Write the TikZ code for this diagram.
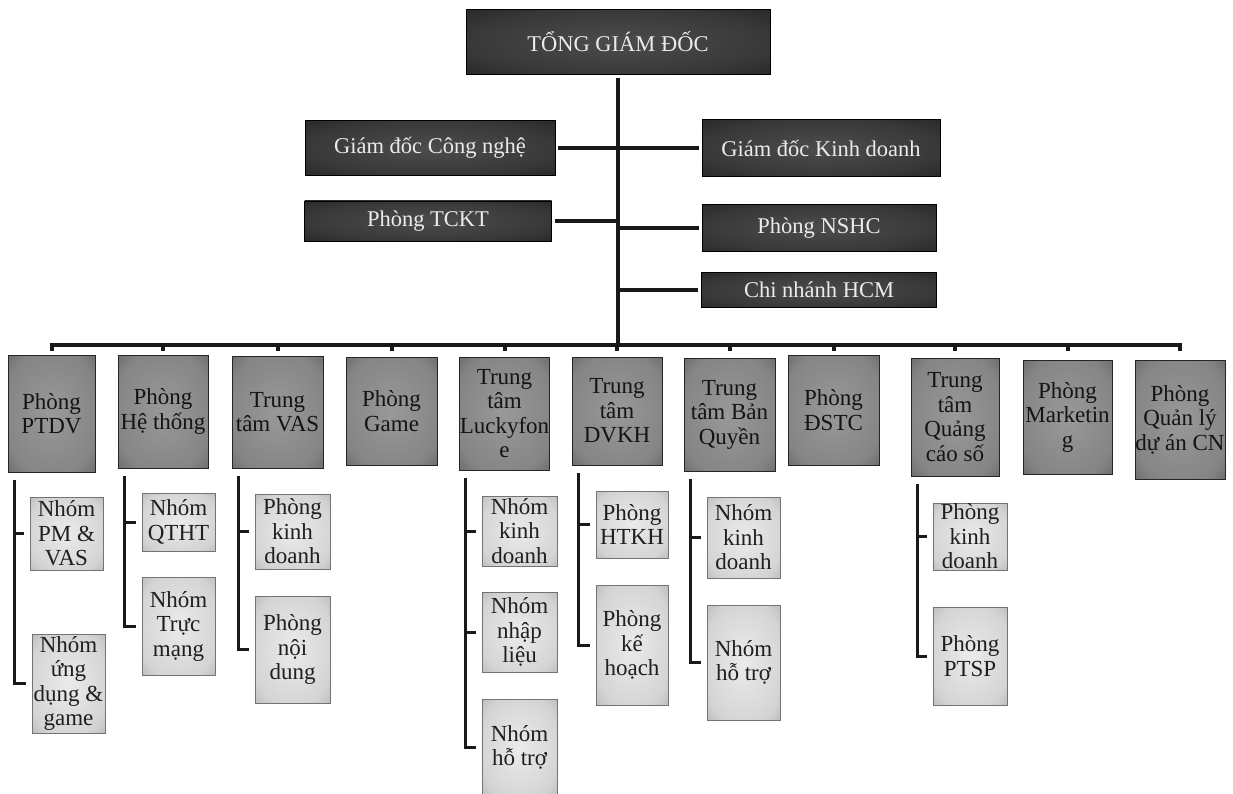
\documentclass[tikz,border=0pt]{standalone}
\usepackage{fontspec}
\setmainfont{Liberation Serif}

% bóng đổ cho các ô
\pgfdeclareradialshading{topshade}{\pgfpoint{0bp}{0bp}}{color(0bp)=(black!70); color(25bp)=(black!78); color(50bp)=(black!92); color(72bp)=(black)}
\pgfdeclareradialshading{deptshade}{\pgfpoint{0bp}{0bp}}{color(0bp)=(black!40); color(28bp)=(black!48); color(50bp)=(black!74); color(72bp)=(black!90)}
\pgfdeclareradialshading{teamshade}{\pgfpoint{0bp}{0bp}}{color(0bp)=(black!8); color(28bp)=(black!17); color(50bp)=(black!42); color(72bp)=(black!65)}

\tikzset{
  leader/.style={shading=topshade, draw=black, line width=0.6pt, text=black!8,
    inner sep=0pt, font=\fontsize{22.5}{26}\selectfont},
  dept/.style={shading=deptshade, draw=black!85, line width=0.6pt, text=black!92,
    inner sep=0pt, align=center, font=\fontsize{23}{24.5}\selectfont},
  team/.style={shading=teamshade, draw=black!55, line width=0.5pt, text=black!88,
    inner sep=0pt, align=center, font=\fontsize{23}{24.5}\selectfont},
  trunk/.style={line width=4pt, draw=black!90},
  bar/.style={line width=3pt, draw=black!90},
}

\begin{document}
\begin{tikzpicture}[x=1pt,y=-1pt]
		\useasboundingbox (0,0) rectangle (1233,794);
		% Tổng giám đốc và khối lãnh đạo
		\node [leader, minimum width=304pt, minimum height=65pt] (top) at (618,42) {TỔNG GIÁM ĐỐC};
		\node [leader, minimum width=250pt, minimum height=55pt] (gdcn) at (430,148) {Giám đốc Công nghệ};
		\node [leader, minimum width=238pt, minimum height=57pt] (gdkd) at (821,148) {Giám đốc Kinh doanh};
		\node [leader, minimum width=247pt, minimum height=40pt] (tckt) at (428,221) {Phòng TCKT};
		\node [leader, minimum width=234pt, minimum height=47pt] (nshc) at (819,228) {Phòng NSHC};
		\node [leader, minimum width=235pt, minimum height=35pt] (hcm) at (819,290) {Chi nhánh HCM};
		\coordinate (bus) at (0,345);
		% trục chính
		\draw [trunk] ([yshift=-3pt]top.south) -- (top.south |- bus);
		\draw [trunk] ([xshift=3pt]gdcn.east) -- ([xshift=-3pt]gdkd.west);
		\draw [trunk] ([xshift=3pt]tckt.east) -- (tckt.east -| top.south);
		\draw [trunk] (nshc.west -| top.south) -- ([xshift=-3pt]nshc.west);
		\draw [trunk] (hcm.west -| top.south) -- ([xshift=-3pt]hcm.west);
		% các phòng, trung tâm
		\node [dept, minimum width=87pt, minimum height=117pt] (ptdv) at (51.5,413.5) {Phòng\\PTDV};
		\node [dept, minimum width=90pt, minimum height=113pt] (ht) at (163,411.5) {Phòng\\Hệ thống};
		\node [dept, minimum width=91pt, minimum height=112pt] (vas) at (277.5,412) {Trung\\tâm VAS};
		\node [dept, minimum width=91pt, minimum height=108pt] (game) at (391.5,411) {Phòng\\Game};
		\node [dept, minimum width=89pt, minimum height=113pt] (lucky) at (504.5,413.5) {Trung\\tâm\\Luckyfon\\e};
		\node [dept, minimum width=90pt, minimum height=108pt] (dvkh) at (617,411) {Trung\\tâm\\DVKH};
		\node [dept, minimum width=91pt, minimum height=113pt] (bq) at (729.5,414.5) {Trung\\tâm Bản\\Quyền};
		\node [dept, minimum width=91pt, minimum height=110pt] (dstc) at (833.5,410) {Phòng\\ĐSTC};
		\node [dept, minimum width=88pt, minimum height=118pt] (qcs) at (955,417) {Trung\\tâm\\Quảng\\cáo số};
		\node [dept, minimum width=89pt, minimum height=114pt] (mkt) at (1067.5,417) {Phòng\\Marketin\\g};
		\node [dept, minimum width=90pt, minimum height=119pt] (qlda) at (1180,419.5) {Phòng\\Quản lý\\dự án CN};
		% thanh ngang nối các phòng
		\coordinate (bus left) at (ptdv.north |- bus);
		\coordinate (bus right) at (qlda.north |- bus);
		\draw [trunk] (bus left) ++(0,6) -- (bus left) -- (bus right) -- ++(0,6);
		\foreach \n in {ht,vas,game,lucky,dvkh,bq,dstc,qcs,mkt}
			\draw [trunk] (bus -| \n.north) -- ++(0,6);
		% các nhóm trực thuộc
		\node [team, minimum width=73pt, minimum height=73pt] (ptdv1) at (66.5,533.5) {Nhóm\\PM \&\\VAS};
		\node [team, minimum width=73pt, minimum height=99pt] (ptdv2) at (68.5,683.5) {Nhóm\\ứng\\dụng \&\\game};
		\node [team, minimum width=73pt, minimum height=58pt] (ht1) at (178.5,522) {Nhóm\\QTHT};
		\node [team, minimum width=73pt, minimum height=98pt] (ht2) at (178.5,626) {Nhóm\\Trực\\mạng};
		\node [team, minimum width=75pt, minimum height=75pt] (vas1) at (292.5,531.5) {Phòng\\kinh\\doanh};
		\node [team, minimum width=75pt, minimum height=107pt] (vas2) at (292.5,649.5) {Phòng\\nội\\dung};
		\node [team, minimum width=75pt, minimum height=70pt] (lucky1) at (519.5,531) {Nhóm\\kinh\\doanh};
		\node [team, minimum width=75pt, minimum height=80pt] (lucky2) at (519.5,632) {Nhóm\\nhập\\liệu};
		\node [team, minimum width=75pt, minimum height=97pt] (lucky3) at (519.5,747.5) {Nhóm\\hỗ trợ};
		\node [team, minimum width=72pt, minimum height=67pt] (dvkh1) at (632,524.5) {Phòng\\HTKH};
		\node [team, minimum width=72pt, minimum height=120pt] (dvkh2) at (632,645) {Phòng\\kế\\hoạch};
		\node [team, minimum width=73pt, minimum height=81pt] (bq1) at (743.5,537.5) {Nhóm\\kinh\\doanh};
		\node [team, minimum width=73pt, minimum height=115pt] (bq2) at (743.5,662.5) {Nhóm\\hỗ trợ};
		\node [team, minimum width=74pt, minimum height=67pt] (qcs1) at (970,536.5) {Phòng\\kinh\\doanh};
		\node [team, minimum width=74pt, minimum height=98pt] (qcs2) at (970,656) {Phòng\\PTSP};
		% nhánh Phòng PTDV
		\coordinate (bar1) at ([xshift=6.5pt,yshift=-7.5pt]ptdv.south west);
		\draw [bar] (bar1) |- ([xshift=-6pt]ptdv2.west);
		\draw [bar] (bar1 |- ptdv1.west) -- ([xshift=-6pt]ptdv1.west);
		% nhánh Phòng Hệ thống
		\coordinate (bar2) at ([xshift=6.5pt,yshift=-7.5pt]ht.south west);
		\draw [bar] (bar2) |- ([xshift=-6pt]ht2.west);
		\draw [bar] (bar2 |- ht1.west) -- ([xshift=-6pt]ht1.west);
		% nhánh Trung tâm VAS
		\coordinate (bar3) at ([xshift=6.5pt,yshift=-7.5pt]vas.south west);
		\draw [bar] (bar3) |- ([xshift=-6pt]vas2.west);
		\draw [bar] (bar3 |- vas1.west) -- ([xshift=-6pt]vas1.west);
		% nhánh Trung tâm Luckyfone
		\coordinate (bar4) at ([xshift=6.5pt,yshift=-7.5pt]lucky.south west);
		\draw [bar] (bar4) |- ([xshift=-6pt]lucky3.west);
		\draw [bar] (bar4 |- lucky1.west) -- ([xshift=-6pt]lucky1.west);
		\draw [bar] (bar4 |- lucky2.west) -- ([xshift=-6pt]lucky2.west);
		% nhánh Trung tâm DVKH
		\coordinate (bar5) at ([xshift=6.5pt,yshift=-7.5pt]dvkh.south west);
		\draw [bar] (bar5) |- ([xshift=-6pt]dvkh2.west);
		\draw [bar] (bar5 |- dvkh1.west) -- ([xshift=-6pt]dvkh1.west);
		% nhánh Trung tâm Bản Quyền
		\coordinate (bar6) at ([xshift=6.5pt,yshift=-7.5pt]bq.south west);
		\draw [bar] (bar6) |- ([xshift=-6pt]bq2.west);
		\draw [bar] (bar6 |- bq1.west) -- ([xshift=-6pt]bq1.west);
		% nhánh Trung tâm Quảng cáo số
		\coordinate (bar7) at ([xshift=6.5pt,yshift=-7.5pt]qcs.south west);
		\draw [bar] (bar7) |- ([xshift=-6pt]qcs2.west);
		\draw [bar] (bar7 |- qcs1.west) -- ([xshift=-6pt]qcs1.west);
	\end{tikzpicture}
\end{document}
